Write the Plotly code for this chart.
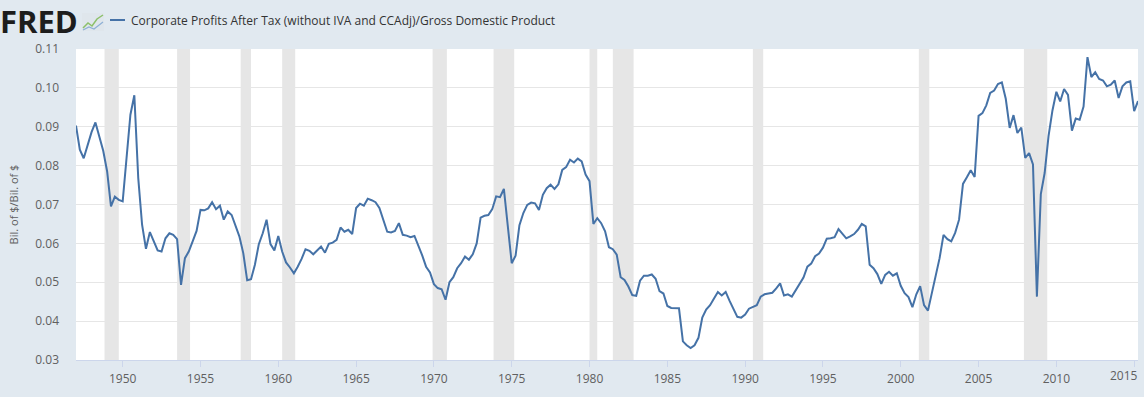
import pandas as pd
import plotly.graph_objects as go

# ---------------- data (quarterly, 1947Q1 .. 2015Q2) ----------------
series_name = "Corporate Profits After Tax (without IVA and CCAdj)/Gross Domestic Product"
y_title = "Bil. of $/Bil. of $"
first_quarter = "1947-01-01"

values_1940s = [0.0903, 0.0841, 0.0819, 0.0854,
                0.0886, 0.0911, 0.0875, 0.0838,
                0.0785, 0.0695, 0.0720, 0.0712]
values_1950s = [0.0708, 0.0828, 0.0931, 0.0981,
                0.0768, 0.0648, 0.0586, 0.0629,
                0.0605, 0.0582, 0.0579, 0.0613,
                0.0626, 0.0622, 0.0611, 0.0493,
                0.0562, 0.0579, 0.0605, 0.0632,
                0.0686, 0.0685, 0.0690, 0.0706,
                0.0688, 0.0697, 0.0661, 0.0682,
                0.0673, 0.0643, 0.0618, 0.0575,
                0.0505, 0.0508, 0.0545, 0.0598,
                0.0626, 0.0661, 0.0598, 0.0582]
values_1960s = [0.0619, 0.0579, 0.0551, 0.0538,
                0.0523, 0.0540, 0.0560, 0.0585,
                0.0581, 0.0572, 0.0582, 0.0592,
                0.0576, 0.0599, 0.0602, 0.0609,
                0.0641, 0.0630, 0.0635, 0.0624,
                0.0691, 0.0702, 0.0697, 0.0715,
                0.0711, 0.0706, 0.0691, 0.0663,
                0.0630, 0.0628, 0.0632, 0.0652,
                0.0622, 0.0620, 0.0616, 0.0619,
                0.0596, 0.0569, 0.0540, 0.0525]
values_1970s = [0.0495, 0.0485, 0.0482, 0.0455,
                0.0500, 0.0513, 0.0536, 0.0549,
                0.0566, 0.0558, 0.0572, 0.0600,
                0.0666, 0.0671, 0.0673, 0.0688,
                0.0721, 0.0719, 0.0740, 0.0643,
                0.0549, 0.0568, 0.0647, 0.0678,
                0.0699, 0.0705, 0.0703, 0.0686,
                0.0725, 0.0742, 0.0751, 0.0740,
                0.0752, 0.0789, 0.0796, 0.0815,
                0.0808, 0.0818, 0.0811, 0.0777]
values_1980s = [0.0760, 0.0650, 0.0665, 0.0652,
                0.0631, 0.0590, 0.0585, 0.0571,
                0.0513, 0.0506, 0.0489, 0.0467,
                0.0465, 0.0504, 0.0517, 0.0517,
                0.0520, 0.0509, 0.0477, 0.0471,
                0.0439, 0.0434, 0.0434, 0.0433,
                0.0348, 0.0338, 0.0331, 0.0338,
                0.0357, 0.0409, 0.0430, 0.0441,
                0.0458, 0.0475, 0.0466, 0.0475,
                0.0452, 0.0430, 0.0411, 0.0409]
values_1990s = [0.0417, 0.0432, 0.0436, 0.0441,
                0.0463, 0.0469, 0.0471, 0.0473,
                0.0484, 0.0497, 0.0466, 0.0469,
                0.0463, 0.0479, 0.0492, 0.0512,
                0.0540, 0.0548, 0.0567, 0.0574,
                0.0589, 0.0612, 0.0613, 0.0616,
                0.0637, 0.0625, 0.0613, 0.0618,
                0.0624, 0.0635, 0.0650, 0.0644,
                0.0545, 0.0536, 0.0521, 0.0496,
                0.0519, 0.0527, 0.0517, 0.0523]
values_2000s = [0.0491, 0.0472, 0.0462, 0.0436,
                0.0469, 0.0490, 0.0441, 0.0427,
                0.0471, 0.0513, 0.0562, 0.0622,
                0.0611, 0.0605, 0.0627, 0.0661,
                0.0753, 0.0770, 0.0788, 0.0771,
                0.0928, 0.0935, 0.0955, 0.0987,
                0.0993, 0.1010, 0.1014, 0.0972,
                0.0897, 0.0930, 0.0884, 0.0898,
                0.0820, 0.0832, 0.0803, 0.0463,
                0.0727, 0.0781, 0.0876, 0.0942]
values_2010s = [0.0990, 0.0965, 0.0997, 0.0982,
                0.0890, 0.0921, 0.0918, 0.0952,
                0.1079, 0.1028, 0.1040, 0.1023,
                0.1019, 0.1004, 0.1008, 0.1019,
                0.0974, 0.1004, 0.1014, 0.1017,
                0.0940, 0.0966]

recession_starts = ["1948-11-01", "1953-07-01", "1957-08-01", "1960-04-01",
                    "1969-12-01", "1973-11-01", "1980-01-01", "1981-07-01",
                    "1990-07-01", "2001-03-01", "2007-12-01"]
recession_ends = ["1949-10-01", "1954-05-01", "1958-04-01", "1961-02-01",
                  "1970-11-01", "1975-03-01", "1980-07-01", "1982-11-01",
                  "1991-03-01", "2001-11-01", "2009-06-01"]

x_tick_years = [1950, 1955, 1960, 1965, 1970, 1975, 1980, 1985, 1990,
                1995, 2000, 2005, 2010, 2015]
y_ticks = [0.03, 0.04, 0.05, 0.06, 0.07, 0.08, 0.09, 0.10, 0.11]

# ---------------- build ----------------
values = (values_1940s + values_1950s + values_1960s + values_1970s +
          values_1980s + values_1990s + values_2000s + values_2010s)
dates = pd.date_range(first_quarter, periods=len(values), freq="QS")
tick_dates = [f"{yr}-01-01" for yr in x_tick_years]
# the last label is drawn separately (shifted left so it fits, as in the original)
tick_text = [str(yr) for yr in x_tick_years[:-1]] + [""]

W, H = 1144, 397
ML, MR, MT, MB = 76, 6, 49, 37
PW, PH = W - ML - MR, H - MT - MB
BG = "#e1e9f0"


def xp(px):
    return (px - ML) / PW


def yp(py):
    return (H - MB - py) / PH


FONT = "Open Sans"
LINE_COLOR = "#4572a7"
LABEL_COLOR = "#606060"

fig = go.Figure()
fig.add_trace(go.Scatter(
    x=dates, y=values, mode="lines", name=series_name,
    line=dict(color=LINE_COLOR, width=2), showlegend=False,
    hovertemplate="%{x|%Y-%m-%d}: %{y:.4f}<extra></extra>",
))

shapes = []
for s, e in zip(recession_starts, recession_ends):
    shapes.append(dict(type="rect", xref="x", yref="paper", x0=s, x1=e, y0=0, y1=1,
                       fillcolor="#e6e6e6", line=dict(width=0), layer="between"))

# header legend line
shapes.append(dict(type="line", xref="paper", yref="paper",
                   x0=xp(110), x1=xp(125), y0=yp(20), y1=yp(20),
                   line=dict(color=LINE_COLOR, width=2)))
# small logo chart icon
shapes.append(dict(type="rect", xref="paper", yref="paper",
                   x0=xp(82), x1=xp(104), y0=yp(31), y1=yp(13),
                   fillcolor="#dfe6ec", line=dict(width=0)))
icon_g = "M {} {} L {} {} L {} {} L {} {} L {} {}".format(
    xp(83), yp(28), xp(88), yp(23), xp(92), yp(26), xp(97), yp(19), xp(103), yp(15))
icon_b = "M {} {} L {} {} L {} {} L {} {}".format(
    xp(83), yp(30), xp(89), yp(27), xp(94), yp(29), xp(103), yp(22))
shapes.append(dict(type="path", xref="paper", yref="paper", path=icon_g,
                   line=dict(color="#8cc06a", width=1.5)))
shapes.append(dict(type="path", xref="paper", yref="paper", path=icon_b,
                   line=dict(color="#8eb0d6", width=1.2)))

annotations = [
    dict(text="<b>FRED</b>", xref="paper", yref="paper", x=xp(-2), y=yp(21),
         xanchor="left", yanchor="middle", showarrow=False,
         font=dict(family=FONT, size=31, color="#1d1d1d")),
    dict(text=series_name, xref="paper", yref="paper", x=xp(129), y=yp(20),
         xanchor="left", yanchor="middle", showarrow=False,
         font=dict(family=FONT, size=12, color="#333333")),
    dict(text=str(x_tick_years[-1]), xref="x", yref="paper", x=tick_dates[-1],
         y=yp(375), xanchor="center", yanchor="middle", xshift=-10, showarrow=False,
         font=dict(family=FONT, size=12, color=LABEL_COLOR)),
]

fig.update_layout(
    width=W, height=H,
    margin=dict(l=ML, r=MR, t=MT, b=MB, pad=0),
    paper_bgcolor=BG,
    plot_bgcolor="#ffffff",
    font=dict(family=FONT, size=12, color=LABEL_COLOR),
    shapes=shapes,
    annotations=annotations,
    hovermode="x",
    xaxis=dict(
        type="date",
        range=[dates[0], dates[-1]],
        tickvals=tick_dates, ticktext=tick_text,
        ticks="outside", ticklen=6, tickcolor="#ccd6eb",
        ticklabelstandoff=2,
        showline=True, linecolor="#ccd6eb", linewidth=1,
        showgrid=False, zeroline=False, automargin=False,
        tickfont=dict(family=FONT, size=12, color=LABEL_COLOR),
    ),
    yaxis=dict(
        range=[0.03, 0.11], tickvals=y_ticks, tickformat=".2f",
        showgrid=True, gridcolor="#e6e6e6", gridwidth=1,
        zeroline=False, showline=False, ticks="",
        ticklabelstandoff=16, automargin=False,
        tickfont=dict(family=FONT, size=12, color=LABEL_COLOR),
        title=dict(text=y_title, standoff=14,
                   font=dict(family=FONT, size=11, color=LABEL_COLOR)),
    ),
)

fig.write_html(
    "out.html",
    config={"displayModeBar": False},
    post_script=f"document.body.style.margin='0';document.body.style.background='{BG}';",
)
